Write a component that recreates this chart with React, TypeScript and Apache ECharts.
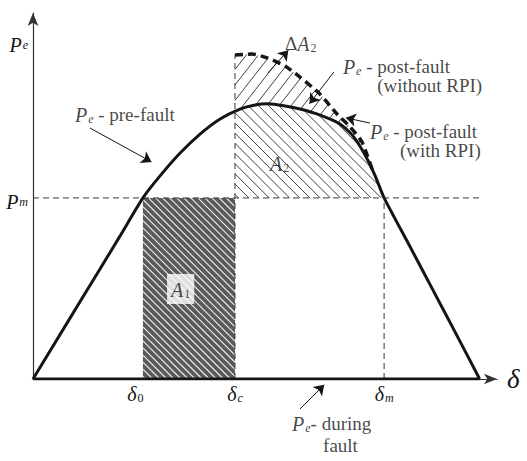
import React, { useEffect, useRef } from 'react';
import * as echarts from 'echarts';

type Pt = [number, number];

const SERIF = '"Liberation Serif", "Times New Roman", Times, serif';
const INK = '#151515';

// Rotor angle δ in degrees, electrical power P in per-unit of the pre-fault peak
const DELTA_MAX = 187;
const P_MAX = 1.33;

const delta0 = 44.3;
const deltaC = 81.4;
const deltaM = 141.5;
const Pm = 0.658;
const pmLineEnd = 181.2;

// Pe – pre-fault (also the post-fault curve without RPI)
const preFault: Pt[] = [
  [0, 0], [13.7, 0.203], [27.0, 0.4], [35.1, 0.52], [44.3, 0.658], [51.2, 0.738],
  [59.3, 0.821], [67.3, 0.89], [75.4, 0.945], [83.4, 0.981], [89.5, 0.996],
  [94.7, 1.0], [101.6, 0.992], [107.6, 0.981], [115.7, 0.959], [123.7, 0.927],
  [128.6, 0.887], [133.4, 0.821], [137.9, 0.738], [141.5, 0.658], [152.0, 0.48],
  [161.2, 0.323], [170.5, 0.164], [180, 0],
];

// Pe – post-fault with RPI (dashed), from δc until it rejoins the solid curve
const postFaultRPI: Pt[] = [
  [81.4, 1.177], [88.3, 1.181], [94.7, 1.166], [101.6, 1.137], [107.6, 1.097],
  [115.7, 1.035], [122.5, 0.963], [127.8, 0.916], [132.6, 0.861], [137.0, 0.754],
];

// Pe – during fault
const duringFault: Pt[] = [[0, 0], [180, 0]];

// axis tick labels
const xTickValues = [delta0, deltaC, deltaM];
const xTickText = ['{d|δ}{n0|0}', '{d|δ}{si|c}', '{d|δ}{si|m}'];
const yTickValues = [Pm, 1.228];
const yTickText = ['{pa|P}{s|m}', '{pa|P}{s|e}'];

// annotation arrows: [from, to]
const arrows: Pt[][] = [
  [[22.97, 0.912], [47.76, 0.789]],
  [[94.7, 1.112], [102.9, 1.195]],
  [[121.3, 1.116], [111.4, 1.0]],
  [[135.8, 0.93], [126.1, 0.949]],
  [[107.6, -0.109], [117.4, -0.021]],
];

// annotation texts, anchored at their left-middle
const notes: { text: string; at: Pt }[] = [
  { text: '{p|P}{s|e}{t| - pre-fault}', at: [16.9, 0.961] },
  { text: '{p|P}{s|e}{t| - post-fault}', at: [124.9, 1.135] },
  { text: '{t|(without RPI)}', at: [138.7, 1.066] },
  { text: '{p|P}{s|e}{t| - post-fault}', at: [135.8, 0.898] },
  { text: '{t|(with RPI)}', at: [147.9, 0.828] },
  { text: '{p|P}{s|e}{t|- during}', at: [104.4, -0.162] },
  { text: '{t|fault}', at: [116.9, -0.244] },
  { text: '{p|A}{n|2}', at: [95.5, 0.783] },
  { text: '{t|Δ}{p|A}{n|2}', at: [101.6, 1.219] },
];
const a1Label = { text: '{p|A}{n|1}', at: [59.5, 0.327] as Pt };

const rich: Record<string, any> = {
  p: { fontFamily: SERIF, fontStyle: 'italic', fontSize: 20, lineHeight: 20, verticalAlign: 'top', color: INK },
  pa: { fontFamily: SERIF, fontStyle: 'italic', fontSize: 20, lineHeight: 20, padding: [4, 0, 0, 0], verticalAlign: 'top', color: INK },
  d: { fontFamily: SERIF, fontStyle: 'italic', fontSize: 20, lineHeight: 20, verticalAlign: 'top', color: INK },
  t: { fontFamily: SERIF, fontSize: 19, lineHeight: 20, verticalAlign: 'top', color: INK },
  s: { fontFamily: SERIF, fontStyle: 'italic', fontSize: 12, lineHeight: 12, padding: [15, 0, 0, 1], verticalAlign: 'bottom', color: INK },
  si: { fontFamily: SERIF, fontStyle: 'italic', fontSize: 12, lineHeight: 12, padding: [13, 0, 0, 1], verticalAlign: 'bottom', color: INK },
  n: { fontFamily: SERIF, fontSize: 12, lineHeight: 12, padding: [15, 0, 0, 1], verticalAlign: 'bottom', color: INK },
  n0: { fontFamily: SERIF, fontSize: 12, lineHeight: 12, padding: [13, 15, 0, 1], verticalAlign: 'bottom', color: INK },
};

function yAt(curve: Pt[], x: number): number {
  for (let i = 1; i < curve.length; i++) {
    const [x0, y0] = curve[i - 1];
    const [x1, y1] = curve[i];
    if (x >= x0 && x <= x1) return y0 + ((y1 - y0) * (x - x0)) / (x1 - x0);
  }
  return curve[curve.length - 1][1];
}

function between(curve: Pt[], a: number, b: number): Pt[] {
  return [[a, yAt(curve, a)], ...curve.filter((p) => p[0] > a && p[0] < b), [b, yAt(curve, b)]];
}

// Regions of the equal-area criterion
const rpiEnd = postFaultRPI[postFaultRPI.length - 1][0];
const areaA1: Pt[] = [[delta0, 0], [delta0, Pm], [deltaC, Pm], [deltaC, 0]];
const areaA2: Pt[] = [[deltaC, Pm], ...between(preFault, deltaC, deltaM)];
const areaDA2: Pt[] = [...postFaultRPI, ...between(preFault, deltaC, rpiEnd).reverse()];

// Parallel hatch segments clipped to a polygon (pixel space)
function hatch(poly: number[][], angle: number, gap: number): number[][] {
  const a = (angle * Math.PI) / 180;
  const d = [Math.cos(a), -Math.sin(a)];
  const n = [-d[1], d[0]];
  const dot = (p: number[], v: number[]) => p[0] * v[0] + p[1] * v[1];
  let lo = Infinity;
  let hi = -Infinity;
  poly.forEach((p) => {
    const c = dot(p, n);
    lo = Math.min(lo, c);
    hi = Math.max(hi, c);
  });
  const segs: number[][] = [];
  for (let c = Math.ceil(lo / gap) * gap; c <= hi; c += gap) {
    const ts: number[] = [];
    for (let i = 0; i < poly.length; i++) {
      const p = poly[i];
      const q = poly[(i + 1) % poly.length];
      const cp = dot(p, n) - c;
      const cq = dot(q, n) - c;
      if (cp < 0 !== cq < 0) {
        const t = cp / (cp - cq);
        ts.push(dot([p[0] + t * (q[0] - p[0]), p[1] + t * (q[1] - p[1])], d));
      }
    }
    ts.sort((u, v) => u - v);
    for (let k = 0; k + 1 < ts.length; k += 2) {
      segs.push([
        n[0] * c + d[0] * ts[k], n[1] * c + d[1] * ts[k],
        n[0] * c + d[0] * ts[k + 1], n[1] * c + d[1] * ts[k + 1],
      ]);
    }
  }
  return segs;
}

const dashedRef = { color: '#3a3a3a', width: 1, type: [6, 4] as number[] };

function nearestIndex(values: number[], v: number) {
  let best = 0;
  values.forEach((x, i) => {
    if (Math.abs(x - v) < Math.abs(values[best] - v)) best = i;
  });
  return best;
}

export default function App() {
  const ref = useRef<HTMLDivElement>(null);

  useEffect(() => {
    if (!ref.current) return;
    const chart = echarts.init(ref.current, undefined, { renderer: 'svg' });

    const option: any = {
      animation: false,
      backgroundColor: '#fff',
      textStyle: { fontFamily: SERIF },
      grid: { left: 33, right: 30, top: 13, bottom: 82, containLabel: false },
      xAxis: {
        type: 'value',
        min: 0,
        max: DELTA_MAX,
        axisLine: {
          show: true,
          onZero: false,
          symbol: ['none', 'arrow'],
          symbolSize: [8, 13],
          lineStyle: { color: '#333', width: 1.2 },
        },
        axisTick: { show: false },
        splitLine: { show: false },
        axisLabel: {
          customValues: xTickValues,
          margin: 5,
          formatter: (v: number) => xTickText[nearestIndex(xTickValues, v)],
          rich,
        },
        name: 'δ',
        nameLocation: 'end',
        nameGap: 10,
        nameTextStyle: { fontFamily: SERIF, fontStyle: 'italic', fontSize: 27, color: INK },
      },
      yAxis: {
        type: 'value',
        min: 0,
        max: P_MAX,
        axisLine: {
          show: true,
          onZero: false,
          symbol: ['none', 'arrow'],
          symbolSize: [8, 13],
          lineStyle: { color: '#333', width: 1.2 },
        },
        axisTick: { show: false },
        splitLine: { show: false },
        axisLabel: {
          customValues: yTickValues,
          margin: 5,
          formatter: (v: number) => yTickText[nearestIndex(yTickValues, v)],
          rich,
        },
      },
      series: [
        {
          type: 'custom',
          name: 'areas',
          coordinateSystem: 'cartesian2d',
          silent: true,
          clip: false,
          z: 1,
          data: [[0, 0]],
          renderItem: (_params: any, api: any) => {
            const px = (poly: Pt[]) => poly.map((p) => api.coord(p));
            const lines = (poly: number[][], angle: number, gap: number, stroke: string, w: number) =>
              hatch(poly, angle, gap).map((s) => ({
                type: 'line',
                shape: { x1: s[0], y1: s[1], x2: s[2], y2: s[3] },
                style: { stroke, lineWidth: w },
              }));
            const a1 = px(areaA1);
            const a2 = px(areaA2);
            const da2 = px(areaDA2);
            return {
              type: 'group',
              children: [
                { type: 'polygon', shape: { points: a1 }, style: { fill: '#5a5a5a' } },
                ...lines(a1, -45, 5, '#efefef', 1.1),
                ...lines(a2, -45, 7.2, '#2a2a2a', 0.9),
                ...lines(da2, 52, 9.5, '#2a2a2a', 0.9),
              ],
            };
          },
        },
        {
          type: 'line',
          name: 'Pm',
          data: [[0, Pm], [pmLineEnd, Pm]],
          symbol: 'none',
          silent: true,
          z: 2,
          lineStyle: dashedRef,
        },
        {
          type: 'line',
          name: 'δc',
          data: [[deltaC, 0], [deltaC, postFaultRPI[0][1]]],
          symbol: 'none',
          silent: true,
          z: 2,
          lineStyle: dashedRef,
        },
        {
          type: 'line',
          name: 'δm',
          data: [[deltaM, 0], [deltaM, Pm]],
          symbol: 'none',
          silent: true,
          z: 2,
          lineStyle: dashedRef,
        },
        {
          type: 'line',
          name: 'Pe pre-fault',
          data: preFault,
          symbol: 'none',
          smooth: 0.2,
          silent: true,
          z: 5,
          lineStyle: { color: INK, width: 3 },
        },
        {
          type: 'line',
          name: 'Pe post-fault (with RPI)',
          data: postFaultRPI,
          symbol: 'none',
          smooth: 0.2,
          silent: true,
          z: 5,
          lineStyle: { color: INK, width: 3.5, type: [8, 5] },
        },
        {
          type: 'line',
          name: 'Pe during fault',
          data: duringFault,
          symbol: 'none',
          silent: true,
          z: 5,
          lineStyle: { color: INK, width: 3 },
        },
        {
          type: 'lines',
          coordinateSystem: 'cartesian2d',
          silent: true,
          clip: false,
          z: 6,
          symbol: ['none', 'arrow'],
          symbolSize: 10,
          lineStyle: { color: INK, width: 1, opacity: 1, curveness: 0 },
          data: arrows.map((c) => ({ coords: c })),
        },
        {
          type: 'scatter',
          silent: true,
          clip: false,
          z: 7,
          symbolSize: 0,
          label: {
            show: true,
            position: 'right',
            distance: 0,
            formatter: (p: any) => p.name,
            rich,
          },
          data: notes.map((n) => ({ name: n.text, value: n.at })),
        },
        {
          type: 'scatter',
          silent: true,
          z: 7,
          symbolSize: 0,
          label: {
            show: true,
            position: 'inside',
            formatter: (p: any) => p.name,
            backgroundColor: '#fff',
            padding: [6, 4, 4, 4],
            rich,
          },
          data: [{ name: a1Label.text, value: a1Label.at }],
        },
      ],
    };

    chart.setOption(option);
    return () => chart.dispose();
  }, []);

  return (
    <div
      ref={ref}
      style={{ position: 'fixed', left: 0, top: 0, width: 527, height: 461, background: '#fff' }}
    />
  );
}
